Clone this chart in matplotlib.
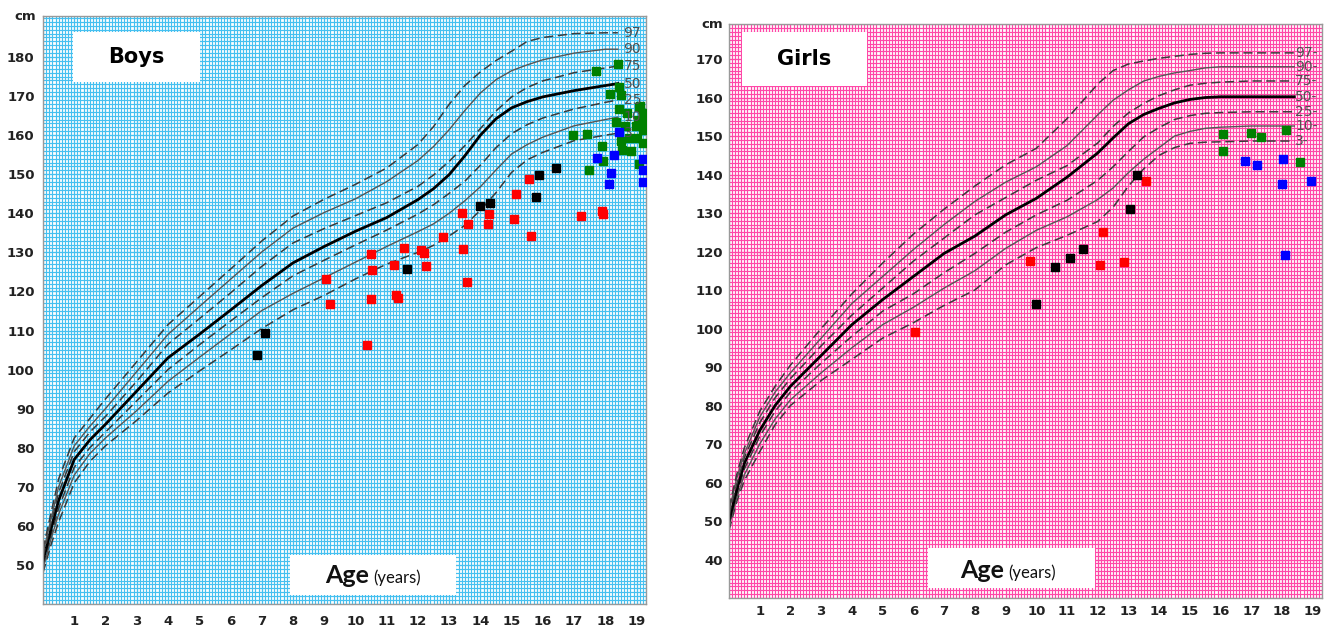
import numpy as np
import matplotlib.pyplot as plt
from matplotlib.patches import Rectangle
from matplotlib.transforms import blended_transform_factory

# ages (years) at which the percentile curves were read
AGES = [0, 0.25, 0.5, 1, 1.5, 2, 3, 4, 5, 6, 7, 8, 9, 10, 11, 12, 12.5,
        13, 13.5, 14, 14.5, 15, 15.5, 16, 17, 18, 18.4]
PCT_LABELS = ['3', '10', '25', '50', '75', '90', '97']

# boys percentile curves (cm)
BOYS_P3 = [48, 55, 61, 71, 76.5, 80.5, 87, 94, 99.6, 105, 110.5, 115.3, 119, 123.2, 127, 130,
           131.8, 134.2, 136.9, 140.8, 145.3, 150.5, 153.7, 155.6, 158.6, 160, 160.5]
BOYS_P10 = [49, 56.5, 63, 73, 78.5, 82.5, 89.5, 97, 103.1, 109.1, 115.1, 119.5, 123.5, 127.5, 131.5,
            135.3, 137.3, 140, 143.2, 146.8, 151.1, 155.2, 157.6, 159.5, 162.4, 164, 164.6]
BOYS_P25 = [50, 57.5, 64.5, 75, 80, 84, 92, 100, 106.3, 112.4, 118.4, 124, 128, 131.9, 135.7,
            139.8, 142.2, 145.1, 148.2, 152.3, 156.8, 160.4, 162.7, 164.4, 166.7, 168.4, 169]
BOYS_P50 = [51, 59, 66.5, 77, 82, 86, 94.5, 103, 109, 115.2, 121.5, 127.3, 131.5, 135.4, 138.9,
            143.5, 146.3, 149.9, 154.7, 160, 164.2, 167, 168.6, 169.8, 171.4, 172.7, 173.2]
BOYS_P75 = [52, 60.5, 68.5, 79, 84, 88, 97, 106.5, 113, 119.6, 126.4, 132.4, 136.1, 139.4, 142.7,
            146.9, 149.8, 153.3, 157.3, 161.7, 166.2, 169.8, 172.2, 173.9, 176, 177.2, 177.7]
BOYS_P90 = [53, 61.5, 70, 80.5, 85.5, 90, 99.5, 109, 116.1, 123.1, 130.1, 136.2, 140.2, 143.7, 148.1,
            153.5, 157.1, 161.4, 166.3, 170.8, 174.2, 176.5, 178, 179.3, 181, 182, 182]
BOYS_P97 = [54, 63, 72, 82.5, 87.5, 92.5, 102, 111.5, 118.6, 125.7, 132.9, 139.3, 143.6, 147.4, 151.6,
            157.6, 162.2, 167.9, 172.7, 176.2, 179.1, 181.5, 184, 185, 186, 186.2, 186.2]

# girls percentile curves (cm)
GIRLS_P3 = [47.5, 55, 60.5, 68, 75, 80, 86.5, 92, 97.5, 101.5, 106, 110, 116.5, 121, 124.2, 127.8,
            131.5, 137, 141.5, 145, 147, 148.1, 148.4, 148.5, 148.7, 148.7, 148.7]
GIRLS_P10 = [48.5, 56, 62, 70, 76.5, 81.5, 88.5, 95, 101, 105.5, 110.5, 115, 120.8, 125.5, 129, 133.5,
             136.5, 140.5, 144, 147, 150, 151.2, 152, 152.3, 152.6, 152.6, 152.6]
GIRLS_P25 = [49.5, 57, 63.5, 72, 78.5, 83.5, 91, 98, 104.5, 109, 114.5, 119.5, 125, 129.5, 133.3, 138.5,
             142, 146, 149.8, 152.2, 154.3, 155.3, 155.9, 156.1, 156.3, 156.3, 156.3]
GIRLS_P50 = [50, 58, 65, 73.5, 80, 85, 93, 101, 107.5, 113.5, 119.5, 124, 129.5, 133.8, 139.3, 145.6,
             149.5, 153.2, 155.6, 157.2, 158.6, 159.5, 160, 160.2, 160.2, 160.2, 160.2]
GIRLS_P75 = [51.5, 59.5, 66.5, 75.5, 82, 87, 95.5, 103.5, 110.5, 117.5, 123.5, 129.5, 134, 138.5, 142.3,
             148.2, 152.5, 156, 158.5, 160.5, 162, 163.2, 163.7, 164, 164.3, 164.3, 164.3]
GIRLS_P90 = [52.5, 61, 67.5, 77, 83.5, 88.5, 97.5, 106.5, 113.5, 120.5, 127, 133, 138, 142, 147.5,
             155.5, 159.3, 162, 164.3, 165.5, 166.4, 167, 167.7, 168, 168, 168, 168]
GIRLS_P97 = [53.5, 62, 69, 78.5, 85, 90.5, 100, 109, 117, 124.5, 131, 137, 142.5, 146.8, 154.5,
             163.5, 167, 168.7, 169.5, 170.2, 170.7, 171.2, 171.5, 171.6, 171.6, 171.6, 171.6]

# individual patients, boys
BOYS_RED_AGE = [9.06, 9.2, 10.36, 10.51, 10.53, 10.51, 11.23, 11.29, 11.36, 11.57, 12.1, 12.19, 12.27,
                12.8, 13.41, 13.44, 13.59, 13.57, 14.26, 14.23, 15.08, 15.14, 15.61, 15.55, 17.23,
                17.9, 17.92]
BOYS_RED_CM = [123.3, 116.8, 106.2, 129.5, 125.4, 118.1, 126.8, 119, 118.4, 131.1, 130.7, 129.8, 126.5,
               133.9, 140.2, 130.8, 137.3, 122.5, 139.7, 137.2, 138.5, 144.9, 134.1, 148.8, 139.3,
               140.6, 139.8]
BOYS_BLACK_AGE = [6.86, 7.12, 11.66, 13.99, 14.31, 15.77, 15.87, 16.41]
BOYS_BLACK_CM = [103.8, 109.4, 125.8, 141.8, 142.6, 144.2, 149.8, 151.7]
BOYS_GREEN_AGE = [17.71, 18.4, 18.45, 18.16, 18.5, 18.42, 18.68, 19.09, 18.35, 18.63, 18.98, 19.05,
                  19.17, 16.95, 17.41, 18.5, 18.77, 19.0, 19.2, 19.2, 18.54, 18.82, 17.9, 17.92,
                  17.47, 19.06, 19.1, 19.19]
BOYS_GREEN_CM = [176.4, 178.3, 172.4, 170.5, 170.3, 166.7, 165.7, 167.1, 163.4, 162.3, 162.3, 163.8,
                 163.4, 160, 160.2, 158.5, 159.4, 159.2, 161.3, 157.9, 156.3, 156, 157.2, 153.3,
                 151, 152.5, 167.4, 165.6]
BOYS_BLUE_AGE = [18.42, 17.73, 18.27, 19.19, 18.19, 18.13, 19.19, 19.19]
BOYS_BLUE_CM = [160.8, 154.2, 155, 154, 150.2, 147.6, 151.1, 148]

# individual patients, girls
GIRLS_RED_AGE = [6.07, 9.8, 12.07, 12.16, 12.86, 13.56]
GIRLS_RED_CM = [99.2, 117.5, 116.4, 125.2, 117.2, 138.3]
GIRLS_BLACK_AGE = [9.99, 10.62, 11.09, 11.52, 13.05, 13.29]
GIRLS_BLACK_CM = [106.4, 115.9, 118.4, 120.6, 131.1, 140]
GIRLS_GREEN_AGE = [16.07, 16.07, 17.0, 17.32, 18.13, 18.58]
GIRLS_GREEN_CM = [150.4, 146.1, 150.9, 149.7, 151.6, 143.2]
GIRLS_BLUE_AGE = [16.81, 17.17, 18.02, 18.0, 18.94, 18.1]
GIRLS_BLUE_CM = [143.5, 142.5, 144, 137.5, 138.3, 119.1]

X_TICKS = list(range(1, 20))
BOYS_Y_TICKS = list(range(50, 190, 10))
GIRLS_Y_TICKS = list(range(40, 180, 10))

FONT = 'DejaVu Sans'


def draw_panel(ax, curves, points, grid_color, title, xlim, ylim, yticks,
               title_box, age_box, age_x, age_y, label_x, label_suffix, xpad, ypad, cm_x):
    ax.set_xlim(*xlim)
    ax.set_ylim(*ylim)
    ax.set_facecolor('white')

    # graph paper
    ax.set_xticks(X_TICKS)
    ax.set_yticks(yticks)
    ax.set_xticks(np.arange(0, 19.35, 0.1), minor=True)
    ax.set_yticks(np.arange(ylim[0] - ylim[0] % 1, ylim[1], 1), minor=True)
    ax.grid(which='minor', color=grid_color, lw=0.85, zorder=0)
    ax.grid(which='major', color=grid_color, lw=0.95, zorder=0)
    ax.set_axisbelow(True)
    ax.tick_params(which='both', length=0)
    ax.tick_params(axis='x', pad=xpad)
    ax.tick_params(axis='y', pad=ypad)
    ax.set_xticklabels([str(t) for t in X_TICKS], fontsize=9.5, fontweight='bold', family=FONT,
                       color='#222222')
    ax.set_yticklabels([str(t) for t in yticks], fontsize=9.5, fontweight='bold', family=FONT,
                       color='#222222')
    for s in ax.spines.values():
        s.set_color('#999999')
        s.set_linewidth(1.0)

    tr = blended_transform_factory(ax.transAxes, ax.transData)
    ax.text(cm_x, ylim[1], 'cm', transform=tr, ha='right', va='center',
            fontsize=9.5, fontweight='bold', family=FONT, color='#222222', clip_on=False)

    # percentile curves
    styles = {'3': ('--', 1.1, '#3a3a3a'), '10': ('-', 1.0, '#555555'), '25': ('--', 1.1, '#3a3a3a'),
              '50': ('-', 2.0, '#000000'), '75': ('--', 1.1, '#3a3a3a'), '90': ('-', 1.0, '#555555'),
              '97': ('--', 1.1, '#3a3a3a')}
    for lab, vals in zip(PCT_LABELS, curves):
        ls, lw, col = styles[lab]
        line, = ax.plot(AGES, vals, ls=ls, lw=lw, color=col, zorder=2)
        if ls == '--':
            line.set_dashes((6, 3))
        ax.text(label_x, vals[-1], lab + label_suffix, fontsize=10, color='#505050',
                family=FONT, va='center', ha='left', zorder=4)

    # patients
    for xs, ys, col in points:
        ax.plot(xs, ys, ls='none', marker='s', ms=5.5, color=col, mec=col, zorder=3)

    # title and axis caption boxes
    x0, x1, y0, y1 = title_box
    ax.add_patch(Rectangle((x0, y0), x1 - x0, y1 - y0, transform=ax.transAxes,
                           facecolor='white', edgecolor='none', zorder=5))
    ax.text((x0 + x1) / 2, (y0 + y1) / 2, title, transform=ax.transAxes, ha='center',
            va='center', fontsize=15, fontweight='bold', family=FONT, zorder=6)
    x0, x1, y0, y1 = age_box
    ax.add_patch(Rectangle((x0, y0), x1 - x0, y1 - y0, transform=ax.transAxes,
                           facecolor='white', edgecolor='none', zorder=5))
    ax.text(age_x, age_y, 'Age', transform=ax.transAxes, ha='right', va='baseline',
            fontsize=18, fontweight='bold', family='Lato', color='#111111', zorder=6)
    ax.text(age_x + 0.007, age_y, '(years)', transform=ax.transAxes, ha='left', va='baseline',
            fontsize=12, family='Lato', color='#111111', zorder=6)


fig = plt.figure(figsize=(13.41, 6.26), dpi=100)
ax_b = fig.add_axes([0.03207, 0.03514, 0.44966, 0.9393])
ax_g = fig.add_axes([0.54362, 0.04473, 0.44221, 0.91693])

draw_panel(ax_b,
           [BOYS_P3, BOYS_P10, BOYS_P25, BOYS_P50, BOYS_P75, BOYS_P90, BOYS_P97],
           [(BOYS_RED_AGE, BOYS_RED_CM, '#ff0000'), (BOYS_BLACK_AGE, BOYS_BLACK_CM, '#000000'),
            (BOYS_GREEN_AGE, BOYS_GREEN_CM, '#008000'), (BOYS_BLUE_AGE, BOYS_BLUE_CM, '#0000ff')],
           '#45c0f0', 'Boys', (0.076, 19.28), (40.3, 190.5), BOYS_Y_TICKS,
           (0.05, 0.26, 0.888, 0.973), (0.41, 0.685, 0.0153, 0.0833), 0.541, 0.036,
           18.58, '', 8, 6, -0.012)

draw_panel(ax_g,
           [GIRLS_P3, GIRLS_P10, GIRLS_P25, GIRLS_P50, GIRLS_P75, GIRLS_P90, GIRLS_P97],
           [(GIRLS_RED_AGE, GIRLS_RED_CM, '#ff0000'), (GIRLS_BLACK_AGE, GIRLS_BLACK_CM, '#000000'),
            (GIRLS_GREEN_AGE, GIRLS_GREEN_CM, '#008000'), (GIRLS_BLUE_AGE, GIRLS_BLUE_CM, '#0000ff')],
           '#ff48a8', 'Girls', (0.0, 19.13), (30.1, 179.1), GIRLS_Y_TICKS,
           (0.022, 0.233, 0.892, 0.986), (0.336, 0.617, 0.0174, 0.087), 0.464, 0.035,
           18.42, '-', 5, 4.5, -0.01)

fig.savefig('out.png', dpi=100)
